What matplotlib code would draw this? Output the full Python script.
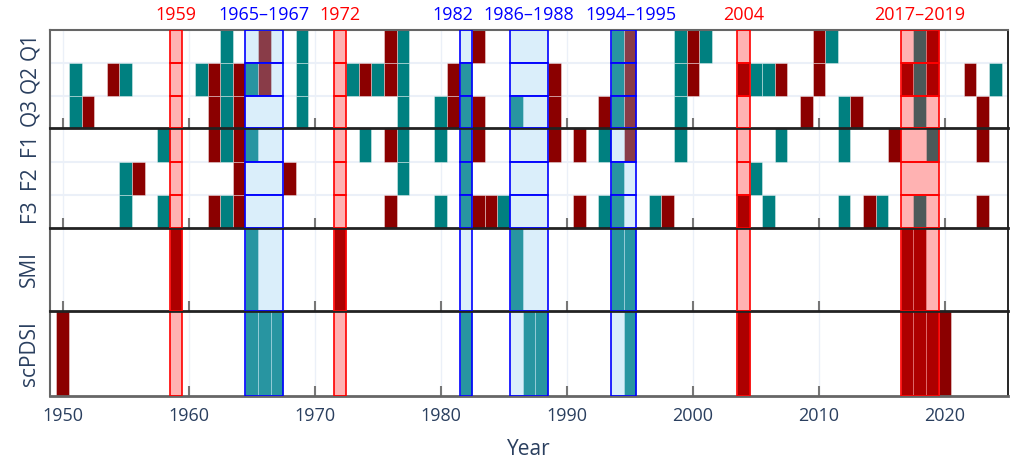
import numpy as np
import matplotlib
matplotlib.use("Agg")
import matplotlib.pyplot as plt

plt.rcParams['font.family'] = ['Open Sans', 'DejaVu Sans']

# ---- data --------------------------------------------------------------
q_rows = ['Q1', 'Q2', 'Q3']
f_rows = ['F1', 'F2', 'F3']

wet = {  # teal cells
    'Q1': [1963, 1969, 1977, 1994, 1999, 2001, 2011, 2018],
    'Q2': [1951, 1955, 1961, 1963, 1965, 1969, 1973, 1975, 1977, 1982, 1994,
           1999, 2005, 2006, 2018, 2024],
    'Q3': [1951, 1963, 1969, 1977, 1980, 1982, 1986, 1994, 1999, 2012, 2018],
    'F1': [1958, 1963, 1965, 1974, 1977, 1980, 1982, 1993, 1999, 2007, 2012, 2019],
    'F2': [1955, 1977, 1982, 1994, 2005],
    'F3': [1955, 1958, 1963, 1980, 1982, 1985, 1993, 1994, 1997, 2006, 2012,
           2015, 2018],
    'SMI': [1965, 1986, 1994, 1995],
    'scPDSI': [1965, 1966, 1967, 1982, 1987, 1988, 1995],
}
dry = {  # dark red cells
    'Q1': [1966, 1976, 1983, 1995, 2000, 2010, 2019],
    'Q2': [1954, 1962, 1964, 1966, 1974, 1976, 1981, 1989, 1995, 2000, 2004,
           2007, 2010, 2017, 2019, 2022],
    'Q3': [1952, 1962, 1964, 1981, 1983, 1989, 1993, 1995, 2009, 2013, 2023],
    'F1': [1962, 1964, 1976, 1983, 1989, 1991, 1995, 2016, 2023],
    'F2': [1956, 1964, 1968],
    'F3': [1962, 1964, 1976, 1983, 1984, 1991, 1998, 2004, 2014, 2023],
    'SMI': [1959, 1972, 2017, 2018],
    'scPDSI': [1950, 2004, 2017, 2018, 2019, 2020],
}

dry_events = [(1959, 1959), (1972, 1972), (2004, 2004), (2017, 2019)]
wet_events = [(1965, 1967), (1982, 1982), (1986, 1988), (1994, 1995)]

# label nudges (points) so neighbouring labels don't collide
label_shift = {1982: -9.4, 1994: 5}

# ---- styling -----------------------------------------------------------
TEAL = '#008080'
DARKRED = '#8B0000'
GRID = '#EBF0F8'
TXT = '#2a3f5f'

W, H = 1017, 465
fig = plt.figure(figsize=(W / 100, H / 100), dpi=100)

# pixel rows of the four stacked panels
bounds = [30, 128.5, 227.7, 311, 395.7]
left_px, right_px = 50, 1008
panels = [q_rows, f_rows, ['SMI'], ['scPDSI']]

axes = []
for i, rows in enumerate(panels):
    top, bot = bounds[i], bounds[i + 1]
    ax = fig.add_axes([left_px / W, 1 - bot / H, (right_px - left_px) / W, (bot - top) / H])
    n = len(rows)
    ax.set_xlim(1949, 2025)
    ax.set_ylim(n, 0)

    for yr in range(1950, 2030, 10):
        ax.axvline(yr, color=GRID, lw=1, zorder=0)
    for k in range(1, n):
        ax.axhline(k, color=GRID, lw=1.5, zorder=0)

    for k, r in enumerate(rows):
        ax.bar(wet[r], 1, width=1, bottom=k, color=TEAL,
               edgecolor=(1, 1, 1, 0.45), linewidth=0.6, zorder=2)
        ax.bar(dry[r], 1, width=1, bottom=k, color=DARKRED,
               edgecolor=(1, 1, 1, 0.45), linewidth=0.6, zorder=2)
        for a, b in dry_events:
            ax.bar((a + b) / 2, 1, width=b - a + 1, bottom=k,
                   color=(1, 0, 0, 0.3), edgecolor='red', linewidth=1.2, zorder=3)
        for a, b in wet_events:
            ax.bar((a + b) / 2, 1, width=b - a + 1, bottom=k,
                   color=(135 / 255, 200 / 255, 240 / 255, 0.3),
                   edgecolor='blue', linewidth=1.2, zorder=3)

    ax.set_yticks(np.arange(n) + 0.5)
    ax.set_yticklabels(rows, rotation=90, va='center', fontsize=15, color=TXT)
    ax.tick_params(axis='y', length=0, pad=7)

    ax.set_xticks(range(1950, 2030, 10))
    ax.tick_params(axis='x', direction='in', length=7, width=1.5, color='#777777',
                   labelsize=13, labelcolor=TXT, pad=8,
                   labelbottom=(i == len(panels) - 1))

    ax.spines['left'].set_color('#666666')
    ax.spines['left'].set_linewidth(1.5)
    ax.spines['right'].set_color('black')
    ax.spines['right'].set_linewidth(1.2)
    ax.spines['top'].set_visible(i == 0)
    ax.spines['top'].set_color('#666666')
    ax.spines['top'].set_linewidth(1.5)
    if i < len(panels) - 1:
        ax.spines['bottom'].set_color('#222222')
        ax.spines['bottom'].set_linewidth(2)
    else:
        ax.spines['bottom'].set_color('#666666')
        ax.spines['bottom'].set_linewidth(2)
    ax.set_zorder(10 - i)
    axes.append(ax)

axes[-1].set_xlabel('Year', fontsize=15, color=TXT, labelpad=10)

# event labels above the top panel
for evts, col in [(dry_events, 'red'), (wet_events, 'blue')]:
    for a, b in evts:
        lab = str(a) if a == b else f'{a}\u2013{b}'
        axes[0].annotate(lab, xy=((a + b) / 2, 1), xycoords=('data', 'axes fraction'),
                         xytext=(label_shift.get(a, 0), 4), textcoords='offset points',
                         ha='center', va='bottom', fontsize=13, color=col)

fig.savefig('out.png', dpi=100)
